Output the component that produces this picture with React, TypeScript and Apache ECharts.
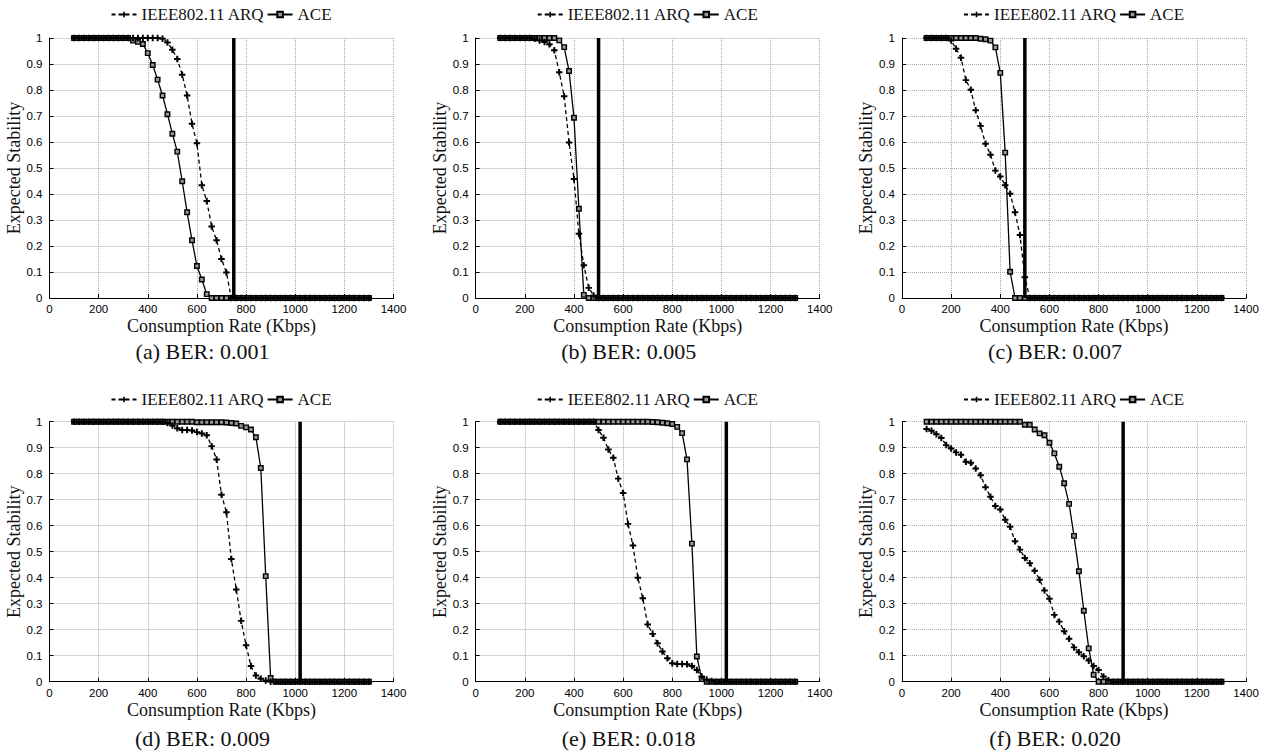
import React, { useEffect, useRef } from "react";
import * as echarts from "echarts";

// ---- data ----
const xValues = [
  100, 120, 140, 160, 180, 200, 220, 240, 260, 280,
  300, 320, 340, 360, 380, 400, 420, 440, 460, 480,
  500, 520, 540, 560, 580, 600, 620, 640, 660, 680,
  700, 720, 740, 760, 780, 800, 820, 840, 860, 880,
  900, 920, 940, 960, 980, 1000, 1020, 1040, 1060, 1080,
  1100, 1120, 1140, 1160, 1180, 1200, 1220, 1240, 1260, 1280,
  1300,
];

const arqA = [
  1, 1, 1, 1, 1, 1, 1, 1, 1, 1,
  1, 1, 1, 1, 1, 1, 1, 1, 0.997, 0.983,
  0.955, 0.919, 0.859, 0.779, 0.67, 0.595, 0.434, 0.373, 0.275, 0.222,
  0.15, 0.098, 0, 0, 0, 0, 0, 0, 0, 0,
  0, 0, 0, 0, 0, 0, 0, 0, 0, 0,
  0, 0, 0, 0, 0, 0, 0, 0, 0, 0,
  0,
];
const aceA = [
  1, 1, 1, 1, 1, 1, 1, 1, 1, 1,
  1, 1, 0.99, 0.985, 0.977, 0.942, 0.896, 0.84, 0.779, 0.707,
  0.632, 0.563, 0.449, 0.33, 0.222, 0.123, 0.071, 0.015, 0, 0,
  0, 0, 0, 0, 0, 0, 0, 0, 0, 0,
  0, 0, 0, 0, 0, 0, 0, 0, 0, 0,
  0, 0, 0, 0, 0, 0, 0, 0, 0, 0,
  0,
];

const arqB = [
  1, 1, 1, 1, 1, 1, 1, 0.997, 0.99, 0.985,
  0.976, 0.953, 0.868, 0.776, 0.598, 0.458, 0.247, 0.126, 0.039, 0.01,
  0, 0, 0, 0, 0, 0, 0, 0, 0, 0,
  0, 0, 0, 0, 0, 0, 0, 0, 0, 0,
  0, 0, 0, 0, 0, 0, 0, 0, 0, 0,
  0, 0, 0, 0, 0, 0, 0, 0, 0, 0,
  0,
];
const aceB = [
  1, 1, 1, 1, 1, 1, 1, 1, 1, 1,
  1, 1, 0.991, 0.965, 0.873, 0.693, 0.343, 0.012, 0, 0,
  0, 0, 0, 0, 0, 0, 0, 0, 0, 0,
  0, 0, 0, 0, 0, 0, 0, 0, 0, 0,
  0, 0, 0, 0, 0, 0, 0, 0, 0, 0,
  0, 0, 0, 0, 0, 0, 0, 0, 0, 0,
  0,
];

const arqC = [
  1, 1, 1, 1, 1, 0.99, 0.959, 0.924, 0.838, 0.801,
  0.722, 0.662, 0.593, 0.551, 0.49, 0.467, 0.434, 0.401, 0.33, 0.242,
  0.08, 0, 0, 0, 0, 0, 0, 0, 0, 0,
  0, 0, 0, 0, 0, 0, 0, 0, 0, 0,
  0, 0, 0, 0, 0, 0, 0, 0, 0, 0,
  0, 0, 0, 0, 0, 0, 0, 0, 0, 0,
  0,
];
const aceC = [
  1, 1, 1, 1, 1, 1, 1, 1, 1, 1,
  1, 0.997, 0.995, 0.99, 0.964, 0.866, 0.559, 0.101, 0, 0,
  0, 0, 0, 0, 0, 0, 0, 0, 0, 0,
  0, 0, 0, 0, 0, 0, 0, 0, 0, 0,
  0, 0, 0, 0, 0, 0, 0, 0, 0, 0,
  0, 0, 0, 0, 0, 0, 0, 0, 0, 0,
  0,
];

const arqD = [
  1, 1, 1, 1, 1, 1, 1, 1, 1, 1,
  1, 1, 1, 1, 1, 1, 1, 1, 1, 0.995,
  0.985, 0.975, 0.968, 0.968, 0.966, 0.96, 0.955, 0.948, 0.906, 0.855,
  0.719, 0.652, 0.472, 0.355, 0.234, 0.14, 0.06, 0.024, 0.011, 0.005,
  0, 0, 0, 0, 0, 0, 0, 0, 0, 0,
  0, 0, 0, 0, 0, 0, 0, 0, 0, 0,
  0,
];
const aceD = [
  1, 1, 1, 1, 1, 1, 1, 1, 1, 1,
  1, 1, 1, 1, 1, 1, 1, 1, 1, 1,
  1, 1, 1, 1, 1, 0.998, 0.998, 0.998, 0.998, 0.998,
  0.998, 0.997, 0.995, 0.993, 0.984, 0.978, 0.97, 0.94, 0.822, 0.406,
  0.014, 0, 0, 0, 0, 0, 0, 0, 0, 0,
  0, 0, 0, 0, 0, 0, 0, 0, 0, 0,
  0,
];

const arqE = [
  1, 1, 1, 1, 1, 1, 1, 1, 1, 1,
  1, 1, 1, 1, 1, 1, 1, 1, 1, 1,
  0.968, 0.938, 0.893, 0.861, 0.781, 0.726, 0.607, 0.524, 0.4, 0.321,
  0.22, 0.184, 0.148, 0.116, 0.09, 0.071, 0.068, 0.068, 0.067, 0.06,
  0.045, 0.02, 0.008, 0.003, 0, 0, 0, 0, 0, 0,
  0, 0, 0, 0, 0, 0, 0, 0, 0, 0,
  0,
];
const aceE = [
  1, 1, 1, 1, 1, 1, 1, 1, 1, 1,
  1, 1, 1, 1, 1, 1, 1, 1, 1, 1,
  1, 1, 1, 1, 1, 1, 1, 1, 1, 1,
  1, 0.999, 0.998, 0.996, 0.994, 0.991, 0.98, 0.956, 0.855, 0.531,
  0.097, 0.01, 0, 0, 0, 0, 0, 0, 0, 0,
  0, 0, 0, 0, 0, 0, 0, 0, 0, 0,
  0,
];

const arqF = [
  0.972, 0.965, 0.952, 0.937, 0.91, 0.897, 0.882, 0.873, 0.846, 0.842,
  0.82, 0.794, 0.748, 0.711, 0.676, 0.662, 0.623, 0.596, 0.54, 0.508,
  0.476, 0.456, 0.427, 0.392, 0.351, 0.319, 0.257, 0.231, 0.194, 0.165,
  0.132, 0.113, 0.098, 0.081, 0.06, 0.045, 0.02, 0.006, 0, 0,
  0, 0, 0, 0, 0, 0, 0, 0, 0, 0,
  0, 0, 0, 0, 0, 0, 0, 0, 0, 0,
  0,
];
const aceF = [
  1, 1, 1, 1, 1, 1, 1, 1, 1, 1,
  1, 1, 1, 1, 1, 1, 1, 1, 1, 1,
  0.988, 0.988, 0.97, 0.955, 0.948, 0.919, 0.878, 0.827, 0.763, 0.684,
  0.561, 0.425, 0.273, 0.128, 0.027, 0, 0, 0, 0, 0,
  0, 0, 0, 0, 0, 0, 0, 0, 0, 0,
  0, 0, 0, 0, 0, 0, 0, 0, 0, 0,
  0,
];

const arqSeries = [arqA, arqB, arqC, arqD, arqE, arqF];
const aceSeries = [aceA, aceB, aceC, aceD, aceE, aceF];
const thresholds = [750, 500, 500, 1020, 1020, 900];
const captions = [
  "(a) BER: 0.001",
  "(b) BER: 0.005",
  "(c) BER: 0.007",
  "(d) BER: 0.009",
  "(e) BER: 0.018",
  "(f) BER: 0.020",
];
const seriesNames = ["IEEE802.11 ARQ", "ACE"];
const xAxisName = "Consumption Rate (Kbps)";
const yAxisName = "Expected Stability";

// ---- layout ----
const W = 1269;
const H = 756;
const colLefts = [49.5, 475.7, 902];
const gridW = 344;
const rowTops = [38, 421.7];
const gridH = 260;
const captionYs = [351, 738];
const captionOffsetX = -19;
const legendYs = [6, 391];

const SERIF = "'Liberation Serif', 'Times New Roman', serif";
const SANS = "'Liberation Sans', Arial, sans-serif";
const PLUS = "path://M3.5,0H6.5V3.5H10V6.5H6.5V10H3.5V6.5H0V3.5H3.5Z";

export default function App() {
  const ref = useRef<HTMLDivElement>(null);

  useEffect(() => {
    document.body.style.margin = "0";
    if (!ref.current) return;
    const chart = echarts.init(ref.current, undefined, { renderer: "svg" });

    const grids: any[] = [];
    const xAxes: any[] = [];
    const yAxes: any[] = [];
    const legends: any[] = [];
    const series: any[] = [];
    const graphics: any[] = [];

    for (let i = 0; i < 6; i++) {
      const row = Math.floor(i / 3);
      const col = i % 3;
      const left = colLefts[col];
      const top = rowTops[row];
      grids.push({ left, top, width: gridW, height: gridH, containLabel: false });

      xAxes.push({
        type: "value",
        gridIndex: i,
        min: 0,
        max: 1400,
        interval: 200,
        name: xAxisName,
        nameLocation: "middle",
        nameGap: 19,
        nameTextStyle: { fontFamily: SERIF, fontSize: 18, color: "#111" },
        axisLine: { show: true, onZero: false, lineStyle: { color: "#000", width: 1 } },
        axisTick: { show: true, inside: true, length: 4, lineStyle: { color: "#000" } },
        axisLabel: {
          fontFamily: SANS,
          fontSize: 11.5,
          color: "#000",
          margin: 5,
          formatter: (v: number) => String(v),
        },
        splitLine: { show: true, lineStyle: { color: "#aaa", type: "dotted", width: 1 } },
      });
      yAxes.push({
        type: "value",
        gridIndex: i,
        min: 0,
        max: 1,
        interval: 0.1,
        name: yAxisName,
        nameLocation: "middle",
        nameGap: 24,
        nameTextStyle: { fontFamily: SERIF, fontSize: 18, color: "#111" },
        axisLine: { show: true, onZero: false, lineStyle: { color: "#000", width: 1 } },
        axisTick: { show: true, inside: true, length: 4, lineStyle: { color: "#000" } },
        axisLabel: {
          fontFamily: SANS,
          fontSize: 11.5,
          color: "#000",
          margin: 7,
          formatter: (v: number) => String(Math.round(v * 10) / 10),
        },
        splitLine: { show: true, lineStyle: { color: "#aaa", type: "dotted", width: 1 } },
      });

      legends.push({
        data: seriesNames,
        left: left + gridW / 2 - 111,
        top: legendYs[row],
        padding: 0,
        itemGap: 2,
        itemWidth: 25,
        itemHeight: 7,
        selectedMode: false,
        textStyle: { fontFamily: SERIF, fontSize: 17, color: "#111" },
      });

      series.push({
        type: "line",
        name: seriesNames[1],
        xAxisIndex: i,
        yAxisIndex: i,
        data: xValues.map((x, k) => [x, aceSeries[i][k]]),
        symbol: "rect",
        symbolSize: 4.5,
        showAllSymbol: true,
        itemStyle: { color: "#999", borderColor: "#000", borderWidth: 1.4 },
        lineStyle: { color: "#000", width: 1.3 },
        z: 3,
      });
      series.push({
        type: "line",
        name: seriesNames[0],
        xAxisIndex: i,
        yAxisIndex: i,
        data: xValues.map((x, k) => [x, arqSeries[i][k]]),
        symbol: PLUS,
        symbolSize: 6.5,
        showAllSymbol: true,
        itemStyle: { color: "#000" },
        lineStyle: { color: "#000", width: 1.3, type: [4, 3] },
        z: 4,
      });
      series.push({
        type: "line",
        name: "threshold",
        xAxisIndex: i,
        yAxisIndex: i,
        data: [
          [thresholds[i], 0],
          [thresholds[i], 1],
        ],
        symbol: "none",
        lineStyle: { color: "#000", width: 3.5 },
        z: 5,
      });

      graphics.push({
        type: "text",
        x: left + gridW / 2 + captionOffsetX,
        y: captionYs[row],
        style: {
          text: captions[i],
          fontFamily: SERIF,
          fontSize: 22,
          fill: "#111",
          align: "center",
          verticalAlign: "middle",
        },
      });
    }

    chart.setOption({
      animation: false,
      backgroundColor: "#fff",
      grid: grids,
      xAxis: xAxes,
      yAxis: yAxes,
      legend: legends,
      series,
      graphic: graphics,
    });

    return () => chart.dispose();
  }, []);

  return (
    <div
      ref={ref}
      style={{ position: "absolute", left: 0, top: 0, width: W, height: H }}
    />
  );
}
